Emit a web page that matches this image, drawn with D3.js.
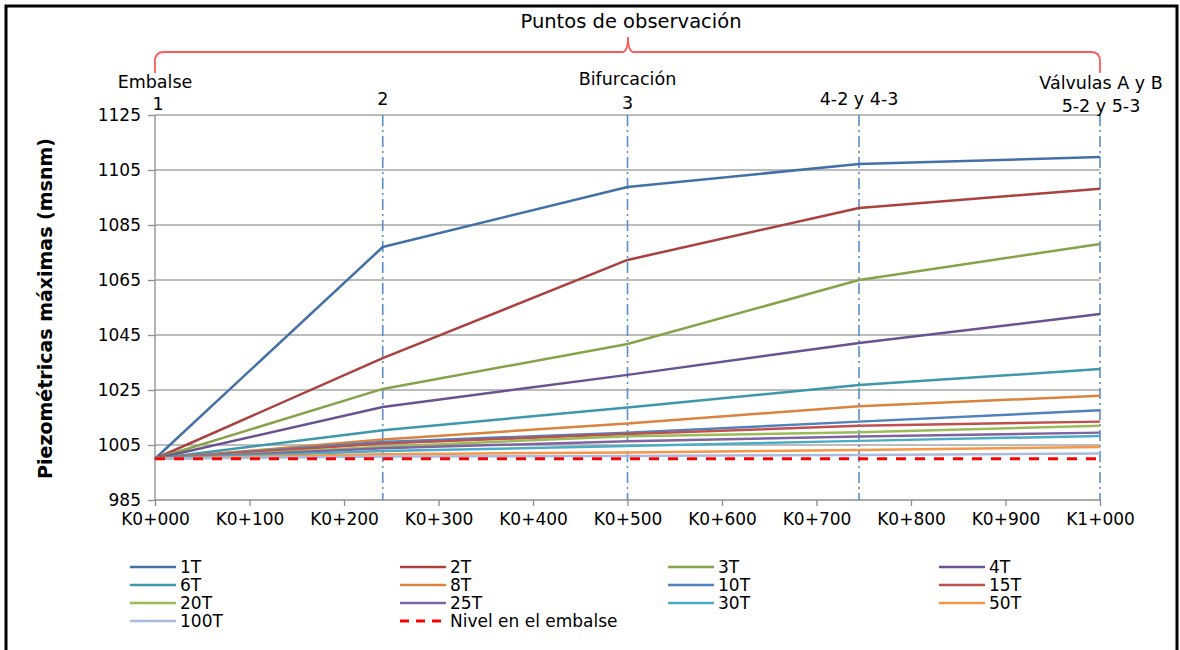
<!DOCTYPE html>
<html><head><meta charset="utf-8">
<script src="https://cdn.jsdelivr.net/npm/d3@7/dist/d3.min.js"></script>
<style>body{margin:0;background:#fff;font-family:"DejaVu Sans",sans-serif}</style>
</head><body><svg id="c" width="1180" height="650"></svg>
<script>
const stations = [0, 241, 500, 745, 1000];
const xTicks = [0,100,200,300,400,500,600,700,800,900,1000];
const xTickLabels = ["K0+000","K0+100","K0+200","K0+300","K0+400","K0+500","K0+600","K0+700","K0+800","K0+900","K1+000"];
const yTicks = [985,1005,1025,1045,1065,1085,1105,1125];
const seriesNames = ["1T","2T","3T","4T","6T","8T","10T","15T","20T","25T","30T","50T","100T"];
const seriesColors = ["#4470A8","#AA413F","#86A34A","#6A5290","#3E97AB","#D9833E","#4F81BD","#C0504D","#9BBB59","#8064A2","#4BACC6","#F79646","#A9BCDF"];
const v1T   = [1000, 1077.0, 1098.8, 1107.2, 1109.7];
const v2T   = [1000, 1036.6, 1072.3, 1091.2, 1098.2];
const v3T   = [1000, 1025.4, 1041.7, 1065.0, 1078.1];
const v4T   = [1000, 1018.8, 1030.5, 1042.1, 1052.6];
const v6T   = [1000, 1010.4, 1018.6, 1026.8, 1032.6];
const v8T   = [1000, 1007.0, 1012.8, 1019.1, 1022.9];
const v10T  = [1000, 1006.1, 1009.5, 1013.5, 1017.6];
const v15T  = [1000, 1005.5, 1009.0, 1012.0, 1013.5];
const v20T  = [1000, 1004.4, 1008.2, 1009.6, 1012.0];
const v25T  = [1000, 1003.8, 1006.4, 1008.1, 1009.5];
const v30T  = [1000, 1002.8, 1004.6, 1006.5, 1008.3];
const v50T  = [1000, 1001.6, 1002.3, 1003.2, 1004.3];
const v100T = [1000, 1000.8, 1001.0, 1001.4, 1001.9];
const nivel = [1000, 1000, 1000, 1000, 1000];
const seriesValues = [v1T,v2T,v3T,v4T,v6T,v8T,v10T,v15T,v20T,v25T,v30T,v50T,v100T];
const pointTop = [["Embalse","1"],["2"],["Bifurcación","3"],["4-2 y 4-3"],["Válvulas A y B","5-2 y 5-3"]];

const FONT = "DejaVu Sans, sans-serif";
const svg = d3.select("#c").attr("font-family",FONT);
const x = d3.scaleLinear().domain([0,1000]).range([155,1100]);
const y = d3.scaleLinear().domain([985,1125]).range([500,115]);

// frame
svg.append("path").attr("d","M6,660 V6 H1177 V660").attr("fill","none").attr("stroke","#000").attr("stroke-width",3);

// gridlines
svg.append("g").selectAll("line").data(yTicks.slice(1)).join("line")
  .attr("x1",x(0)).attr("x2",x(1000)).attr("y1",d=>y(d)).attr("y2",d=>y(d))
  .attr("stroke","#a6a6a6").attr("stroke-width",1.3);

// axes
const yAxis = d3.axisLeft(y).tickValues(yTicks).tickSize(7).tickPadding(7).tickFormat(d3.format("d"));
const gy = svg.append("g").attr("transform",`translate(${x(0)},0)`).call(yAxis);
const xAxis = d3.axisBottom(x).tickValues(xTicks).tickSize(6).tickPadding(7).tickFormat((d,i)=>xTickLabels[i]);
const gx = svg.append("g").attr("transform",`translate(0,${y(985)})`).call(xAxis);
[gx,gy].forEach(g=>{
  g.select(".domain").attr("stroke","#8c8c8c").attr("stroke-width",1.3);
  g.selectAll(".tick line").attr("stroke","#8c8c8c").attr("stroke-width",1.3);
  g.selectAll("text").attr("font-size",17).attr("fill","#000").attr("font-family",FONT);
});
gx.select(".domain").attr("d",`M${x(0)},0H${x(1000)}`);
gy.select(".domain").attr("d",`M0,${y(985)}V${y(1125)}`);

// vertical dash-dot station lines
svg.append("g").selectAll("line").data(stations.slice(1)).join("line")
  .attr("x1",d=>x(d)).attr("x2",d=>x(d)).attr("y1",y(1125)).attr("y2",y(985))
  .attr("stroke","#5b8dc9").attr("stroke-width",1.6).attr("stroke-dasharray","11,4,2,4");

// series lines
const line = d3.line().x((d,i)=>x(stations[i])).y(d=>y(d));
const lines = svg.append("g");
seriesValues.forEach((vals,k)=>{
  lines.append("path").attr("d",line(vals)).attr("fill","none")
    .attr("stroke",seriesColors[k]).attr("stroke-width",2.5).attr("stroke-linejoin","round");
});
lines.append("path").attr("d",line(nivel)).attr("fill","none")
  .attr("stroke","#ff0000").attr("stroke-width",3).attr("stroke-dasharray","10,9");

// y title
svg.append("text").attr("transform",`translate(52,${(y(985)+y(1125))/2 + 1}) rotate(-90)`)
  .attr("text-anchor","middle").attr("font-size",19).attr("font-weight","bold")
  .text("Piezométricas máximas (msnm)");

// header
svg.append("text").attr("x",631).attr("y",28).attr("text-anchor","middle").attr("font-size",19.5).text("Puntos de observación");
const bl = x(0), br = x(1000), bm = 628, by = 52;
svg.append("path").attr("d",
  `M${bl},73 V61 Q${bl},${by} ${bl+9},${by} H${bm-6} Q${bm},${by} ${bm},37 Q${bm},${by} ${bm+6},${by} H${br-9} Q${br},${by} ${br},61 V73`)
  .attr("fill","none").attr("stroke","#ff5a5a").attr("stroke-width",1.8);

// station labels
const topY = [[88,110],[105],[85,109],[105],[89,112]];
const topX = [[x(0),x(0)+3], [x(stations[1])], [x(stations[2]),x(stations[2])], [x(stations[3])], [x(1000)+1,x(1000)+1]];
pointTop.forEach((lbls,i)=>{
  lbls.forEach((t,j)=>{
    svg.append("text").attr("x",topX[i][j]).attr("y",topY[i][j]).attr("text-anchor","middle")
      .attr("font-size",17.5).text(t);
  });
});

// legend
const legNames = seriesNames.concat(["Nivel en el embalse"]);
const legColors = seriesColors.concat(["#ff0000"]);
const colX = [130, 400, 668, 939];
const rowY = [567, 585, 603, 621];
const lg = svg.append("g");
legNames.forEach((n,i)=>{
  const cx = colX[i%4], cy = rowY[Math.floor(i/4)];
  lg.append("line").attr("x1",cx).attr("x2",cx+46).attr("y1",cy).attr("y2",cy)
    .attr("stroke",legColors[i]).attr("stroke-width", i===13?3:2.5)
    .attr("stroke-dasharray", i===13?"9,7":null);
  lg.append("text").attr("x",cx+50).attr("y",cy+6).attr("font-size",17).text(n);
});
</script></body></html>
